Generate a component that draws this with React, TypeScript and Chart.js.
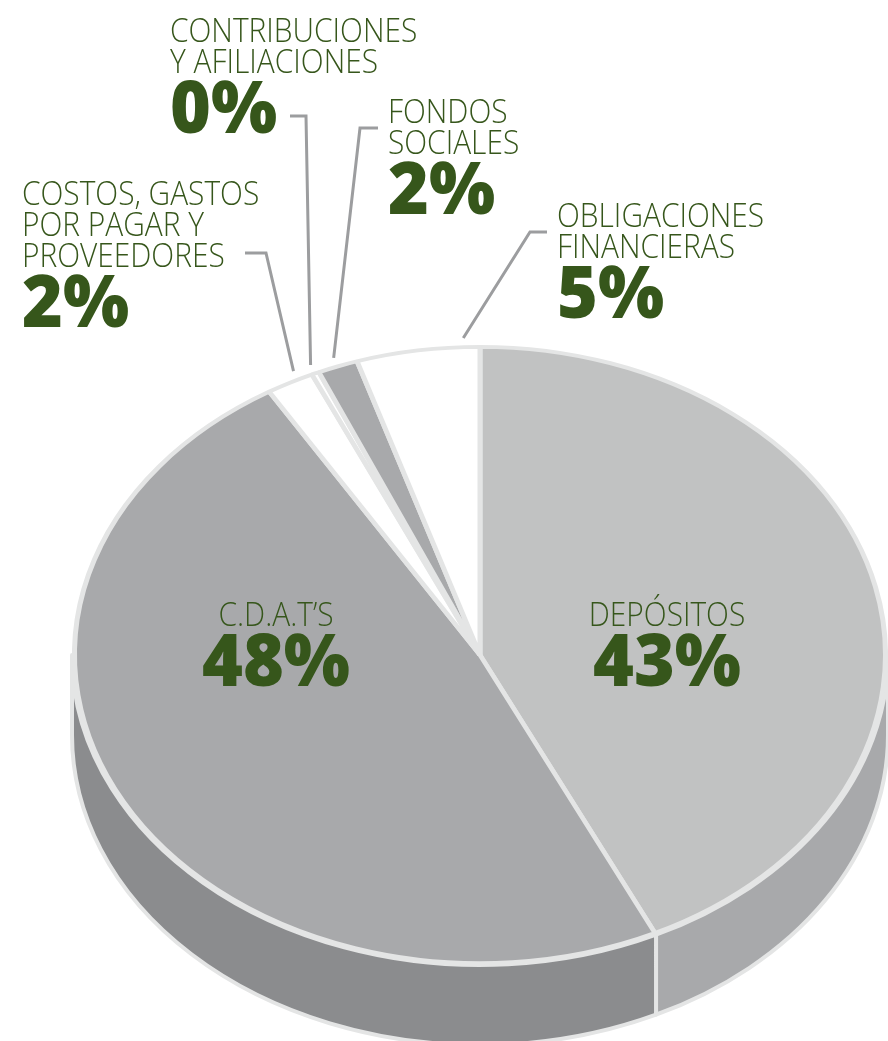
import { useEffect, useRef } from "react";
import { Chart, registerables } from "chart.js";

Chart.register(...registerables);

// ---------- data ----------
const categories = [
  "DEPÓSITOS",
  "C.D.A.T’S",
  "COSTOS, GASTOS POR PAGAR Y PROVEEDORES",
  "CONTRIBUCIONES Y AFILIACIONES",
  "FONDOS SOCIALES",
  "OBLIGACIONES FINANCIERAS",
];
const labelLines = [
  ["DEPÓSITOS"],
  ["C.D.A.T’S"],
  ["COSTOS, GASTOS", "POR PAGAR Y", "PROVEEDORES"],
  ["CONTRIBUCIONES", "Y AFILIACIONES"],
  ["FONDOS", "SOCIALES"],
  ["OBLIGACIONES", "FINANCIERAS"],
];
const values = [42.9, 48.4, 1.9, 0.3, 1.6, 4.9];

// ---------- styles ----------
const topColors = ["#c1c2c2", "#a8a9ab", "#ffffff", "#ffffff", "#a8a9ab", "#ffffff"];
const sideColors = ["#a8a9ab", "#8b8c8e", "#8b8c8e", "#8b8c8e", "#8b8c8e", "#8b8c8e"];
const TEXT_COLOR = "#36561b";
const LINE_COLOR = "#9c9d9f";
const RIM_COLOR = "#e4e5e5";

const W = 888;
const H = 1041;
const CY = 655; // centre of top face on screen
const K = 0.76; // vertical squash
const DEPTH = 80;

// label layout: [x, firstBaseline, align]
const labelLayout: [number, number, CanvasTextAlign][] = [
  [667, 626, "center"],
  [276, 626, "center"],
  [22, 205, "left"],
  [170, 42, "left"],
  [388, 123, "left"],
  [557, 227, "left"],
];
// leader lines: elbow points, and fraction along slice where line ends
const leaders: { [k: number]: { pts: [number, number][]; f: number } } = {
  2: { pts: [[245, 253], [266, 253]], f: 0.7 },
  3: { pts: [[290, 116], [306, 116]], f: 0.5 },
  4: { pts: [[378, 128], [360, 128]], f: 0.5 },
  5: { pts: [[547, 232], [530, 232]], f: 0.87 },
};

const LINE_GAP = 31;
const PCT_GAP = 60;
const SX_LIGHT = 0.905;
const SX_BOLD = 0.97;

const pie3d = {
  id: "pie3d",
  beforeDatasetsDraw(chart: any) {
    const ctx = chart.ctx as CanvasRenderingContext2D;
    const meta = chart.getDatasetMeta(0);
    const arcs = meta.data as any[];
    if (!arcs.length) return;
    const cx = arcs[0].x;
    const R = arcs[0].outerRadius + 2.5;
    const ry = R * K;
    ctx.save();
    // side walls
    arcs.forEach((arc, i) => {
      const a1 = Math.max(arc.startAngle, 0);
      const a2 = Math.min(arc.endAngle, Math.PI);
      if (a1 >= a2) return;
      ctx.beginPath();
      ctx.ellipse(cx, CY, R, ry, 0, a1, a2, false);
      ctx.lineTo(cx + R * Math.cos(a2), CY + DEPTH + ry * Math.sin(a2));
      ctx.ellipse(cx, CY + DEPTH, R, ry, 0, a2, a1, true);
      ctx.closePath();
      ctx.fillStyle = sideColors[i];
      ctx.fill();
      ctx.lineWidth = 4;
      ctx.strokeStyle = RIM_COLOR;
      ctx.lineJoin = "round";
      ctx.stroke();
    });
    // squash the top face
    ctx.translate(0, CY);
    ctx.scale(1, K);
    ctx.translate(0, -arcs[0].y);
  },
  afterDatasetsDraw(chart: any) {
    chart.ctx.restore();
  },
  afterDraw(chart: any) {
    const ctx = chart.ctx as CanvasRenderingContext2D;
    const meta = chart.getDatasetMeta(0);
    const arcs = meta.data as any[];
    if (!arcs.length) return;
    const cx = arcs[0].x;
    const R = arcs[0].outerRadius + 12;
    const total = values.reduce((a, b) => a + b, 0);
    ctx.save();
    // leader lines
    Object.keys(leaders).forEach((key) => {
      const i = Number(key);
      const ld = leaders[i];
      const arc = arcs[i];
      const ang = arc.startAngle + ld.f * (arc.endAngle - arc.startAngle);
      const ex = cx + R * Math.cos(ang);
      const ey = CY + R * K * Math.sin(ang);
      ctx.beginPath();
      ctx.moveTo(ld.pts[0][0], ld.pts[0][1]);
      for (let p = 1; p < ld.pts.length; p++) ctx.lineTo(ld.pts[p][0], ld.pts[p][1]);
      ctx.lineTo(ex, ey);
      ctx.strokeStyle = LINE_COLOR;
      ctx.lineWidth = 3;
      ctx.lineJoin = "miter";
      ctx.stroke();
    });
    // labels
    ctx.fillStyle = TEXT_COLOR;
    ctx.textBaseline = "alphabetic";
    labelLines.forEach((lines, i) => {
      const [x, y0, align] = labelLayout[i];
      ctx.font = "300 33px 'Open Sans'";
      let y = y0;
      lines.forEach((ln, j) => {
        y = y0 + j * LINE_GAP;
        ctx.save();
        ctx.translate(x, y);
        ctx.scale(SX_LIGHT, 1);
        ctx.textAlign = align;
        ctx.fillText(ln, 0, 0);
        ctx.restore();
      });
      const pct = Math.round((values[i] / total) * 100) + "%";
      ctx.font = "800 72px 'Open Sans'";
      ctx.save();
      ctx.translate(x, y + PCT_GAP);
      ctx.scale(SX_BOLD, 1);
      ctx.textAlign = align;
      ctx.fillText(pct, 0, 0);
      ctx.restore();
    });
    ctx.restore();
  },
};

export default function App() {
  const ref = useRef<HTMLCanvasElement>(null);
  useEffect(() => {
    if (!ref.current) return;
    const chart = new Chart(ref.current, {
      type: "pie",
      data: {
        labels: categories,
        datasets: [
          {
            data: values,
            backgroundColor: topColors,
            borderColor: RIM_COLOR,
            borderWidth: 5,
          },
        ],
      },
      options: {
        animation: false,
        responsive: false,
        maintainAspectRatio: false,
        events: [],
        layout: { padding: { left: 72, right: 0, top: 100, bottom: 125 } },
        plugins: { legend: { display: false }, tooltip: { enabled: false } },
      },
      plugins: [pie3d],
    });
    return () => chart.destroy();
  }, []);
  return (
    <div style={{ position: "absolute", left: 0, top: 0, width: W, height: H, background: "#fff" }}>
      <canvas ref={ref} width={W} height={H} style={{ display: "block", width: W, height: H }} />
    </div>
  );
}
